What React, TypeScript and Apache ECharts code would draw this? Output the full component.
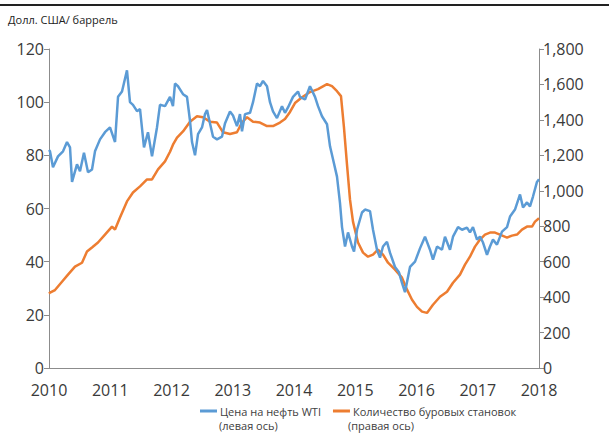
import React, { useEffect, useRef } from "react";
import * as echarts from "echarts";

const title = "Долл. США/ баррель";
const seriesNames = ["Цена на нефть WTI", "Количество буровых становок"];
const seriesSub = ["(левая ось)", "(правая ось)"];

// WTI price, USD/bbl (left axis): [decimal year, value]
const wtiYears = [
  2010.0, 2010.016, 2010.065, 2010.147, 2010.229, 2010.294, 2010.343, 2010.376, 2010.457, 2010.506,
  2010.571, 2010.637, 2010.702, 2010.751, 2010.833, 2010.914, 2010.996, 2011.078, 2011.127, 2011.192,
  2011.273, 2011.322, 2011.371, 2011.437, 2011.486, 2011.551, 2011.616, 2011.682, 2011.763, 2011.812,
  2011.894, 2011.976, 2012.024, 2012.057, 2012.106, 2012.188, 2012.253, 2012.302, 2012.335, 2012.384,
  2012.433, 2012.498, 2012.547, 2012.58, 2012.629, 2012.678, 2012.743, 2012.824, 2012.873, 2012.955,
  2013.004, 2013.069, 2013.118, 2013.151, 2013.2, 2013.282, 2013.331, 2013.396, 2013.445, 2013.494,
  2013.559, 2013.608, 2013.657, 2013.722, 2013.804, 2013.853, 2013.902, 2013.984, 2014.065, 2014.098,
  2014.18, 2014.261, 2014.343, 2014.392, 2014.457, 2014.539, 2014.588, 2014.637, 2014.702, 2014.751,
  2014.784, 2014.833, 2014.882, 2014.947, 2014.98, 2015.029, 2015.11, 2015.159, 2015.241, 2015.29,
  2015.355, 2015.404, 2015.453, 2015.518, 2015.567, 2015.649, 2015.714, 2015.763, 2015.812, 2015.894,
  2015.976, 2016.057, 2016.139, 2016.22, 2016.269, 2016.335, 2016.416, 2016.465, 2016.547, 2016.596,
  2016.678, 2016.743, 2016.824, 2016.873, 2016.922, 2016.988, 2017.037, 2017.086, 2017.151, 2017.2,
  2017.249, 2017.314, 2017.396, 2017.478, 2017.527, 2017.608, 2017.69, 2017.739, 2017.804, 2017.853,
  2017.902, 2017.967, 2018.0,
];
const wtiValues = [
  82, 81.5, 75.5, 79.6, 81.5, 85, 83, 70, 76.6, 74,
  81, 73.6, 74.7, 81.5, 86, 88.7, 90.5, 85, 102, 104,
  112, 100, 99, 96.6, 97.4, 83, 88.7, 79.6, 90.5, 99,
  98.5, 102, 98.5, 107, 106, 103, 102, 93, 85, 80,
  88, 90.5, 95.5, 97, 92, 87, 86, 87, 92, 96.5,
  95, 91, 95.5, 89, 95.5, 96, 100, 107, 106, 108,
  106, 100, 96.5, 94, 98.5, 96, 98, 102, 104, 102,
  101, 106, 102, 98.5, 94.7, 91.7, 83.4, 78.5, 72, 62,
  53, 45.7, 51, 45.7, 43.8, 52, 58.5, 59.6, 59, 52,
  44.5, 41.5, 45.7, 47.5, 43.4, 38, 36, 32, 28.5, 38,
  40, 45, 49.4, 44.5, 40.8, 45.7, 44.5, 49.4, 44.5, 49.4,
  53, 52, 52.8, 51, 53, 48.3, 49.4, 47.2, 42.6, 45.7,
  48.3, 46.4, 51.3, 53, 57, 59.6, 65.3, 60.4, 62.3, 60.8,
  64.5, 70, 71,
];

// Rig count (right axis): [decimal year, value]
const rigYears = [
  2010.0, 2010.016, 2010.098, 2010.212, 2010.31, 2010.424, 2010.539, 2010.62, 2010.702, 2010.8,
  2010.914, 2011.029, 2011.078, 2011.159, 2011.273, 2011.371, 2011.486, 2011.6, 2011.682, 2011.78,
  2011.894, 2011.976, 2012.024, 2012.09, 2012.188, 2012.302, 2012.416, 2012.514, 2012.629, 2012.743,
  2012.841, 2012.955, 2013.069, 2013.151, 2013.233, 2013.331, 2013.445, 2013.559, 2013.657, 2013.771,
  2013.853, 2013.935, 2014.016, 2014.131, 2014.261, 2014.392, 2014.539, 2014.62, 2014.702, 2014.767,
  2014.816, 2014.865, 2014.914, 2014.963, 2015.045, 2015.127, 2015.208, 2015.29, 2015.371, 2015.453,
  2015.535, 2015.649, 2015.763, 2015.845, 2015.927, 2016.008, 2016.09, 2016.171, 2016.269, 2016.384,
  2016.498, 2016.596, 2016.71, 2016.792, 2016.873, 2016.955, 2017.037, 2017.118, 2017.2, 2017.282,
  2017.363, 2017.478, 2017.559, 2017.641, 2017.722, 2017.804, 2017.886, 2017.935, 2018.0,
];
const rigValues = [
  420, 425, 440, 487, 527, 572, 594, 657, 680, 708,
  753, 798, 781, 849, 940, 990, 1025, 1064, 1064, 1121,
  1166, 1220, 1260, 1300, 1335, 1390, 1420, 1415, 1390, 1385,
  1330, 1320, 1330, 1385, 1415, 1390, 1385, 1365, 1365, 1385,
  1405, 1445, 1495, 1528, 1557, 1574, 1602, 1590, 1562, 1534,
  1356, 1149, 951, 826, 708, 651, 628, 640, 668, 640,
  594, 555, 510, 442, 385, 345, 318, 311, 357, 402,
  430, 481, 527, 583, 628, 685, 725, 753, 764, 764,
  753, 736, 747, 753, 781, 798, 798, 826, 845,
];

const BLUE = "#5B9BD5";
const ORANGE = "#ED7D31";
const FONT = "'Open Sans', 'Noto Sans', sans-serif";

export default function App() {
  const ref = useRef<HTMLDivElement>(null);
  useEffect(() => {
    if (!ref.current) return;
    const chart = echarts.init(ref.current, undefined, { renderer: "svg" });
    const axisLabel = { color: "#3a3a3a", fontSize: 16, fontFamily: FONT };
    chart.setOption({
      animation: false,
      backgroundColor: "#ffffff",
      grid: { left: 49, right: 70, top: 49, bottom: 65, containLabel: false },
      legend: {
        left: 200,
        top: 405,
        itemWidth: 17,
        itemHeight: 3,
        itemGap: 12,
        padding: 0,
        icon: "rect",
        textStyle: {
          color: "#404040",
          fontSize: 11,
          lineHeight: 12,
          fontFamily: FONT,
          padding: [0, 0, 0, -2],
        },
        data: seriesNames,
      },
      graphic: [
        { type: "line", shape: { x1: 0, y1: 5, x2: 609, y2: 5 }, style: { stroke: "#222", lineWidth: 2 } },
        { type: "text", x: 8, y: 14, style: { text: title, fill: "#222", fontSize: 11, fontFamily: FONT } },
        { type: "text", x: 219, y: 419, style: { text: seriesSub[0], fill: "#404040", fontSize: 11, lineHeight: 12, fontFamily: FONT } },
        { type: "text", x: 348, y: 419, style: { text: seriesSub[1], fill: "#404040", fontSize: 11, lineHeight: 12, fontFamily: FONT } },
      ],
      xAxis: {
        type: "value",
        min: 2010,
        max: 2018,
        interval: 1,
        splitLine: { show: false },
        axisLine: { lineStyle: { color: "#8c8c8c", width: 1 } },
        axisTick: { show: false },
        axisLabel: { ...axisLabel, margin: 14, formatter: (v: number) => String(Math.round(v)) },
      },
      yAxis: [
        {
          type: "value",
          min: 0,
          max: 120,
          interval: 20,
          splitLine: { show: false },
          axisLine: { show: true, lineStyle: { color: "#8c8c8c" } },
          axisTick: { show: true, length: 5, lineStyle: { color: "#8c8c8c" } },
          axisLabel: { ...axisLabel, margin: 5 },
        },
        {
          type: "value",
          min: 0,
          max: 1800,
          interval: 200,
          position: "right",
          splitLine: { show: false },
          axisLine: { show: true, lineStyle: { color: "#8c8c8c" } },
          axisTick: { show: true, length: 5, lineStyle: { color: "#8c8c8c" } },
          axisLabel: {
            ...axisLabel,
            margin: 4,
            formatter: (v: number) => v.toLocaleString("en-US"),
          },
        },
      ],
      series: [
        {
          name: seriesNames[0],
          type: "line",
          yAxisIndex: 0,
          showSymbol: false,
          symbol: "none",
          lineStyle: { color: BLUE, width: 2.5 },
          itemStyle: { color: BLUE },
          data: wtiYears.map((y, i) => [y, wtiValues[i]]),
          z: 3,
        },
        {
          name: seriesNames[1],
          type: "line",
          yAxisIndex: 1,
          showSymbol: false,
          symbol: "none",
          lineStyle: { color: ORANGE, width: 2.5 },
          itemStyle: { color: ORANGE },
          data: rigYears.map((y, i) => [y, rigValues[i]]),
          z: 2,
        },
      ],
    });
    return () => chart.dispose();
  }, []);
  return <div ref={ref} style={{ width: 609, height: 433, position: "fixed", left: 0, top: 0 }} />;
}
